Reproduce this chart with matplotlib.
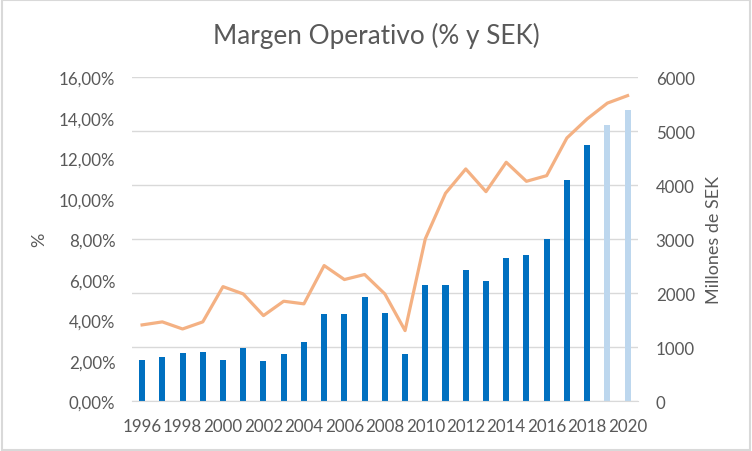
import numpy as np
import matplotlib.pyplot as plt
from matplotlib.patches import Rectangle

plt.rcParams['font.family'] = ['Lato', 'DejaVu Sans']

# Datos
anios = list(range(1996, 2021))
millones_sek = [765, 821, 895, 914, 765, 988, 747, 877, 1099, 1617, 1617, 1932, 1636,
                877, 2154, 2154, 2432, 2235, 2654, 2710, 3006, 4099, 4747, 5117, 5395]
margen_pct = [3.77, 3.92, 3.57, 3.92, 5.66, 5.30, 4.23, 4.94, 4.81, 6.70, 6.01, 6.26, 5.30,
              3.49, 8.02, 10.27, 11.47, 10.35, 11.80, 10.86, 11.14, 13.00, 13.94, 14.72, 15.09]
previsiones = [2019, 2020]

gris = '#595959'
rejilla = '#D9D9D9'

fig = plt.figure(figsize=(7.52, 4.52), dpi=100)
ax = fig.add_axes([0.1755, 0.11, 0.6725, 0.717])
ax2 = ax.twinx()

x = np.arange(len(anios))
colores = ['#BDD7EE' if a in previsiones else '#0070C0' for a in anios]

# barras en el eje derecho, linea en el izquierdo
ax2.bar(x, millones_sek, width=0.3, color=colores, zorder=2)
ax.plot(x, margen_pct, color='#F4B183', lw=2.3, zorder=3, solid_joinstyle='round')

ax.set_zorder(ax2.get_zorder() + 1)
ax.patch.set_visible(False)

ax.set_xlim(-0.5, len(anios) - 0.5)
ax.set_ylim(0, 16)
ax2.set_ylim(0, 6000)
ax.set_yticks(np.arange(0, 17, 2))
ax.set_yticklabels([f'{v:.2f}'.replace('.', ',') + '%' for v in np.arange(0, 17, 2)])
ax2.set_yticks(np.arange(0, 6001, 1000))
ax.set_xticks(x[::2])
ax.set_xticklabels([str(a) for a in anios[::2]])

ax2.grid(axis='y', color=rejilla, lw=1, zorder=0)
for a in (ax, ax2):
    for s in a.spines.values():
        s.set_visible(False)
    a.tick_params(length=0, colors=gris, labelsize=12.2)
ax2.spines['bottom'].set_visible(True)
ax2.spines['bottom'].set_color(rejilla)
ax.tick_params(axis='y', pad=12)
ax2.tick_params(axis='y', pad=13)
ax.tick_params(axis='x', pad=12)

ax.set_ylabel('%', color=gris, fontsize=13, labelpad=8)
ax2.set_ylabel('Millones de SEK', color=gris, fontsize=13, labelpad=8)
fig.suptitle('Margen Operativo (% y SEK)', y=0.95, color=gris, fontsize=18.8)

fig.patches.append(Rectangle((0.002, 0.003), 0.996, 0.994, transform=fig.transFigure,
                             fill=False, edgecolor='#D9D9D9', lw=1.5))

fig.savefig('out.png', dpi=100)
